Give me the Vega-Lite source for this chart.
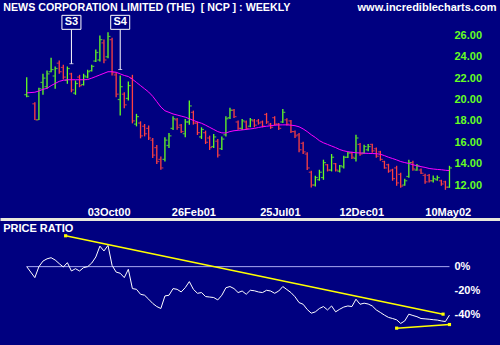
{
  "$schema": "https://vega.github.io/schema/vega-lite/v6.json",
  "background": "#000080",
  "padding": {"left": 0, "right": 0, "top": 1, "bottom": 0},
  "spacing": 2,
  "config": {"view": {"stroke": null}, "font": "Liberation Sans"},
  "datasets": {
    "bars": [
      {"date":"2000-05-15","dir":"up","open":20.45,"high":22.09,"low":20.21,"close":20.3,"ma":20.62,"ratio":0},
      {"date":"2000-05-29","dir":"down","open":19.6,"high":19.74,"low":18.09,"close":18.1,"ma":20.68,"ratio":-9.1},
      {"date":"2000-06-05","dir":"up","open":18.1,"high":21.09,"low":18.09,"close":21.0,"ma":20.8,"ratio":0},
      {"date":"2000-06-12","dir":"up","open":21.6,"high":22.41,"low":20.44,"close":22.0,"ma":20.95,"ratio":4.6},
      {"date":"2000-06-19","dir":"up","open":21.2,"high":22.72,"low":21.0,"close":22.4,"ma":21.05,"ratio":6.5},
      {"date":"2000-06-26","dir":"up","open":22.6,"high":23.91,"low":22.56,"close":22.8,"ma":21.3,"ratio":7.4},
      {"date":"2000-07-03","dir":"up","open":22.2,"high":23.09,"low":21.0,"close":22.9,"ma":21.5,"ratio":5.5},
      {"date":"2000-07-10","dir":"down","open":23.4,"high":23.65,"low":22.41,"close":22.6,"ma":21.7,"ratio":2.5},
      {"date":"2000-07-17","dir":"down","open":23.0,"high":23.25,"low":21.87,"close":22.1,"ma":21.8,"ratio":-0.3},
      {"date":"2000-07-24","dir":"up","open":21.8,"high":23.09,"low":21.47,"close":22.9,"ma":21.85,"ratio":3.3},
      {"date":"2000-07-31","dir":"down","open":22.4,"high":22.5,"low":20.68,"close":20.9,"ma":21.85,"ratio":-3.6},
      {"date":"2000-08-07","dir":"up","open":20.6,"high":21.78,"low":20.44,"close":21.5,"ma":21.85,"ratio":-1.7},
      {"date":"2000-08-14","dir":"down","open":22.1,"high":22.31,"low":21.15,"close":21.3,"ma":21.85,"ratio":-3.6},
      {"date":"2000-08-21","dir":"up","open":21.4,"high":22.41,"low":21.31,"close":22.2,"ma":21.85,"ratio":-0.8},
      {"date":"2000-08-28","dir":"up","open":22.1,"high":22.78,"low":22.0,"close":22.6,"ma":21.87,"ratio":0},
      {"date":"2000-09-04","dir":"up","open":22.7,"high":23.25,"low":22.62,"close":23.1,"ma":22.0,"ratio":3},
      {"date":"2000-09-11","dir":"up","open":23.6,"high":24.69,"low":23.5,"close":24.4,"ma":22.15,"ratio":8},
      {"date":"2000-09-18","dir":"up","open":23.7,"high":26.0,"low":23.56,"close":25.6,"ma":22.3,"ratio":17},
      {"date":"2000-09-25","dir":"down","open":25.3,"high":25.62,"low":23.4,"close":23.7,"ma":22.45,"ratio":13},
      {"date":"2000-10-02","dir":"up","open":24.0,"high":26.3,"low":23.87,"close":25.9,"ma":22.6,"ratio":17.6},
      {"date":"2000-10-09","dir":"down","open":25.6,"high":25.78,"low":22.25,"close":22.5,"ma":22.6,"ratio":1.0},
      {"date":"2000-10-16","dir":"down","open":22.3,"high":22.56,"low":20.21,"close":20.5,"ma":22.55,"ratio":-4.5},
      {"date":"2000-10-23","dir":"up","open":20.0,"high":22.25,"low":18.5,"close":21.2,"ma":22.4,"ratio":-5.5},
      {"date":"2000-10-30","dir":"down","open":20.5,"high":20.68,"low":19.18,"close":19.5,"ma":22.25,"ratio":-9.1},
      {"date":"2000-11-06","dir":"up","open":20.1,"high":21.69,"low":19.9,"close":21.3,"ma":22.15,"ratio":-2.2},
      {"date":"2000-11-13","dir":"down","open":22.0,"high":22.31,"low":17.77,"close":18.0,"ma":21.9,"ratio":-18.2},
      {"date":"2000-11-20","dir":"up","open":17.7,"high":18.66,"low":17.49,"close":18.4,"ma":21.6,"ratio":-18.8},
      {"date":"2000-11-27","dir":"down","open":17.8,"high":17.96,"low":16.37,"close":16.6,"ma":21.3,"ratio":-22.9},
      {"date":"2000-12-04","dir":"down","open":17.5,"high":17.71,"low":16.55,"close":16.8,"ma":21.0,"ratio":-23.7},
      {"date":"2000-12-11","dir":"down","open":17.3,"high":17.56,"low":16.22,"close":16.4,"ma":20.7,"ratio":-27},
      {"date":"2000-12-18","dir":"down","open":16.2,"high":16.4,"low":14.53,"close":14.8,"ma":20.3,"ratio":-30.5},
      {"date":"2000-12-25","dir":"down","open":15.5,"high":15.75,"low":13.96,"close":14.2,"ma":19.8,"ratio":-33.1},
      {"date":"2001-01-01","dir":"down","open":14.4,"high":14.68,"low":13.43,"close":13.6,"ma":19.3,"ratio":-34.7},
      {"date":"2001-01-08","dir":"up","open":14.4,"high":16.46,"low":14.21,"close":16.2,"ma":18.95,"ratio":-24.3},
      {"date":"2001-01-15","dir":"up","open":15.7,"high":16.87,"low":15.46,"close":16.6,"ma":18.8,"ratio":-23.7},
      {"date":"2001-01-22","dir":"up","open":17.3,"high":18.43,"low":17.15,"close":18.2,"ma":18.65,"ratio":-18.2},
      {"date":"2001-01-29","dir":"down","open":18.1,"high":18.28,"low":17.18,"close":17.4,"ma":18.55,"ratio":-18.8},
      {"date":"2001-02-05","dir":"down","open":17.6,"high":17.71,"low":16.87,"close":17.0,"ma":18.45,"ratio":-21.0},
      {"date":"2001-02-12","dir":"up","open":16.8,"high":18.18,"low":16.46,"close":17.9,"ma":18.35,"ratio":-17.4},
      {"date":"2001-02-19","dir":"up","open":17.9,"high":19.9,"low":17.65,"close":19.4,"ma":18.2,"ratio":-12.4},
      {"date":"2001-02-26","dir":"down","open":18.8,"high":18.96,"low":17.65,"close":17.8,"ma":18.05,"ratio":-18.8},
      {"date":"2001-03-05","dir":"down","open":17.8,"high":17.93,"low":16.68,"close":16.9,"ma":17.9,"ratio":-22.1},
      {"date":"2001-03-12","dir":"up","open":16.5,"high":17.4,"low":16.31,"close":17.2,"ma":17.78,"ratio":-21.5},
      {"date":"2001-03-19","dir":"down","open":16.9,"high":17.09,"low":15.84,"close":16.0,"ma":17.6,"ratio":-24.8},
      {"date":"2001-03-26","dir":"down","open":16.4,"high":16.62,"low":15.28,"close":15.5,"ma":17.4,"ratio":-25.2},
      {"date":"2001-04-02","dir":"up","open":15.6,"high":16.78,"low":15.46,"close":16.5,"ma":17.2,"ratio":-25.6},
      {"date":"2001-04-09","dir":"down","open":16.1,"high":16.31,"low":14.58,"close":14.8,"ma":17.0,"ratio":-27.6},
      {"date":"2001-04-16","dir":"up","open":15.4,"high":16.53,"low":15.28,"close":16.3,"ma":16.88,"ratio":-23.7},
      {"date":"2001-04-23","dir":"up","open":16.7,"high":18.43,"low":16.53,"close":18.2,"ma":16.87,"ratio":-17.5},
      {"date":"2001-04-30","dir":"up","open":18.3,"high":19.22,"low":18.18,"close":19.0,"ma":17.0,"ratio":-16.5},
      {"date":"2001-05-07","dir":"down","open":19.0,"high":19.12,"low":18.28,"close":18.4,"ma":17.08,"ratio":-18.2},
      {"date":"2001-05-14","dir":"down","open":17.9,"high":18.03,"low":17.18,"close":17.3,"ma":17.12,"ratio":-21.5},
      {"date":"2001-05-21","dir":"up","open":17.3,"high":18.18,"low":17.15,"close":18.0,"ma":17.16,"ratio":-20.2},
      {"date":"2001-05-28","dir":"down","open":17.9,"high":18.03,"low":17.15,"close":17.3,"ma":17.2,"ratio":-22.9},
      {"date":"2001-06-04","dir":"up","open":17.5,"high":18.28,"low":17.4,"close":18.1,"ma":17.25,"ratio":-19.6},
      {"date":"2001-06-11","dir":"down","open":18.0,"high":18.18,"low":17.4,"close":17.6,"ma":17.3,"ratio":-20.0},
      {"date":"2001-06-18","dir":"down","open":18.0,"high":18.18,"low":17.65,"close":17.8,"ma":17.38,"ratio":-21.0},
      {"date":"2001-06-25","dir":"down","open":17.9,"high":18.03,"low":17.4,"close":17.5,"ma":17.45,"ratio":-21.5},
      {"date":"2001-07-02","dir":"down","open":18.6,"high":18.75,"low":17.72,"close":17.9,"ma":17.5,"ratio":-19.6},
      {"date":"2001-07-09","dir":"down","open":17.7,"high":17.81,"low":17.25,"close":17.4,"ma":17.55,"ratio":-20.2},
      {"date":"2001-07-16","dir":"down","open":18.3,"high":18.43,"low":17.56,"close":17.7,"ma":17.6,"ratio":-22.1},
      {"date":"2001-07-23","dir":"down","open":17.7,"high":17.81,"low":17.15,"close":17.3,"ma":17.62,"ratio":-20.2},
      {"date":"2001-07-30","dir":"up","open":17.9,"high":19.12,"low":17.81,"close":18.8,"ma":17.63,"ratio":-16.5},
      {"date":"2001-08-06","dir":"down","open":18.1,"high":18.25,"low":17.56,"close":17.7,"ma":17.63,"ratio":-19.0},
      {"date":"2001-08-13","dir":"down","open":18.0,"high":18.09,"low":16.87,"close":17.0,"ma":17.6,"ratio":-21.5},
      {"date":"2001-08-20","dir":"down","open":17.0,"high":17.09,"low":16.4,"close":16.6,"ma":17.55,"ratio":-25.0},
      {"date":"2001-08-27","dir":"down","open":16.7,"high":16.87,"low":15.06,"close":15.3,"ma":17.45,"ratio":-29.8},
      {"date":"2001-09-03","dir":"down","open":15.9,"high":16.06,"low":14.9,"close":15.1,"ma":17.25,"ratio":-31.2},
      {"date":"2001-09-10","dir":"down","open":14.9,"high":15.06,"low":13.4,"close":13.6,"ma":17.0,"ratio":-35.5},
      {"date":"2001-09-17","dir":"down","open":13.2,"high":13.33,"low":11.77,"close":12.0,"ma":16.7,"ratio":-38.6},
      {"date":"2001-09-24","dir":"up","open":12.0,"high":12.87,"low":11.87,"close":12.7,"ma":16.45,"ratio":-37.5},
      {"date":"2001-10-01","dir":"up","open":12.5,"high":13.43,"low":12.4,"close":13.2,"ma":16.15,"ratio":-34.7},
      {"date":"2001-10-08","dir":"up","open":12.7,"high":14.37,"low":12.49,"close":14.1,"ma":15.95,"ratio":-33.1},
      {"date":"2001-10-15","dir":"down","open":13.9,"high":13.96,"low":13.27,"close":13.4,"ma":15.8,"ratio":-35.9},
      {"date":"2001-10-22","dir":"up","open":13.4,"high":14.9,"low":13.27,"close":14.6,"ma":15.65,"ratio":-32.6},
      {"date":"2001-10-29","dir":"down","open":14.0,"high":14.06,"low":13.27,"close":13.4,"ma":15.5,"ratio":-37.5},
      {"date":"2001-11-05","dir":"up","open":13.3,"high":13.87,"low":13.18,"close":13.8,"ma":15.32,"ratio":-35.3},
      {"date":"2001-11-12","dir":"up","open":13.7,"high":14.74,"low":13.55,"close":14.6,"ma":15.2,"ratio":-33.5},
      {"date":"2001-11-19","dir":"up","open":14.6,"high":15.12,"low":14.53,"close":15.0,"ma":15.12,"ratio":-32.6},
      {"date":"2001-11-26","dir":"down","open":15.0,"high":15.12,"low":14.43,"close":14.6,"ma":15.06,"ratio":-33.1},
      {"date":"2001-12-03","dir":"up","open":14.5,"high":16.71,"low":14.21,"close":16.4,"ma":15.02,"ratio":-27.0},
      {"date":"2001-12-10","dir":"down","open":15.8,"high":15.93,"low":14.74,"close":14.9,"ma":15.0,"ratio":-31.2},
      {"date":"2001-12-17","dir":"up","open":15.0,"high":15.78,"low":14.93,"close":15.6,"ma":14.98,"ratio":-30.3},
      {"date":"2001-12-24","dir":"up","open":15.3,"high":15.84,"low":15.15,"close":15.6,"ma":14.96,"ratio":-31.0},
      {"date":"2001-12-31","dir":"down","open":15.8,"high":15.87,"low":15.03,"close":15.2,"ma":14.95,"ratio":-32.6},
      {"date":"2002-01-07","dir":"down","open":15.4,"high":15.5,"low":14.56,"close":14.7,"ma":14.93,"ratio":-35.9},
      {"date":"2002-01-14","dir":"down","open":15.1,"high":15.2,"low":14.27,"close":14.4,"ma":14.88,"ratio":-38.0},
      {"date":"2002-01-21","dir":"down","open":14.2,"high":14.27,"low":13.52,"close":13.6,"ma":14.75,"ratio":-40.2},
      {"date":"2002-01-28","dir":"down","open":13.9,"high":13.99,"low":13.15,"close":13.3,"ma":14.6,"ratio":-42.1},
      {"date":"2002-02-04","dir":"down","open":13.4,"high":13.52,"low":12.4,"close":12.6,"ma":14.48,"ratio":-43.0},
      {"date":"2002-02-11","dir":"down","open":13.6,"high":13.8,"low":11.93,"close":12.2,"ma":14.35,"ratio":-44.1},
      {"date":"2002-02-18","dir":"down","open":13.0,"high":13.15,"low":11.74,"close":11.9,"ma":14.2,"ratio":-47.1},
      {"date":"2002-02-25","dir":"up","open":12.0,"high":12.59,"low":11.93,"close":12.4,"ma":14.1,"ratio":-45.0},
      {"date":"2002-03-04","dir":"up","open":12.8,"high":14.37,"low":12.68,"close":14.1,"ma":14.02,"ratio":-39.4},
      {"date":"2002-03-11","dir":"down","open":14.1,"high":14.27,"low":13.33,"close":13.5,"ma":13.9,"ratio":-40.5},
      {"date":"2002-03-18","dir":"up","open":13.4,"high":13.97,"low":13.34,"close":13.8,"ma":13.8,"ratio":-41.5},
      {"date":"2002-03-25","dir":"down","open":13.4,"high":13.55,"low":13.03,"close":13.1,"ma":13.72,"ratio":-43.0},
      {"date":"2002-04-01","dir":"down","open":12.9,"high":13.05,"low":12.12,"close":12.3,"ma":13.65,"ratio":-43.3},
      {"date":"2002-04-08","dir":"down","open":12.9,"high":13.03,"low":12.24,"close":12.4,"ma":13.55,"ratio":-43.6},
      {"date":"2002-04-15","dir":"up","open":12.4,"high":12.9,"low":12.24,"close":12.6,"ma":13.5,"ratio":-44.0},
      {"date":"2002-04-22","dir":"up","open":12.5,"high":12.9,"low":12.4,"close":12.7,"ma":13.46,"ratio":-44.3},
      {"date":"2002-04-29","dir":"down","open":12.4,"high":12.49,"low":11.93,"close":12.1,"ma":13.43,"ratio":-45.0},
      {"date":"2002-05-06","dir":"down","open":12.3,"high":12.4,"low":11.55,"close":11.8,"ma":13.38,"ratio":-45.5},
      {"date":"2002-05-13","dir":"up","open":11.8,"high":13.8,"low":11.74,"close":13.6,"ma":13.35,"ratio":-40.2}
    ],
    "notes": [
      {"label":"S3","date":"2000-07-31","top":26.56,"end":23.35,"box":27.22},
      {"label":"S4","date":"2000-10-23","top":26.56,"end":22.81,"box":27.22}
    ],
    "zero": [{"from":"2000-05-15","to":"2002-05-13","pct":0}],
    "trend": [
      {"line":"upper","date":"2000-07-21","pct":25.6},
      {"line":"upper","date":"2002-05-02","pct":-39.4},
      {"line":"lower","date":"2002-02-11","pct":-51.0},
      {"line":"lower","date":"2002-05-13","pct":-48.0}
    ]
  },
  "vconcat": [
    {
      "width": 500,
      "height": 186,
      "resolve": {"axis": {"x": "independent", "y": "independent"}},
      "layer": [
        {
          "data": {"name": "bars"},
          "mark": {"type": "rule", "strokeWidth": 1.3},
          "encoding": {
            "x": {"field": "date", "type": "temporal",
              "scale": {"type": "utc", "domain": [{"year": 2000, "month": 3, "date": 30, "utc": true}, {"year": 2002, "month": 8, "date": 8, "utc": true}]},
              "axis": {"orient": "bottom", "values": [
                  {"year": 2000, "month": 10, "date": 3, "utc": true},
                  {"year": 2001, "month": 2, "date": 26, "utc": true},
                  {"year": 2001, "month": 7, "date": 25, "utc": true},
                  {"year": 2001, "month": 12, "date": 12, "utc": true},
                  {"year": 2002, "month": 5, "date": 10, "utc": true}],
                "format": "%d%b%y", "labelColor": "white", "labelFontSize": 11, "labelFontWeight": "bold",
                "ticks": false, "domain": false, "grid": false, "labelPadding": 6, "labelFlush": false, "labelOverlap": false, "title": null}},
            "y": {"field": "high", "type": "quantitative",
              "scale": {"domain": [10.6, 28], "nice": false, "zero": false},
              "axis": {"orient": "right", "offset": -46, "values": [12, 14, 16, 18, 20, 22, 24, 26], "format": ".2f",
                "labelColor": "#66ff22", "labelFontSize": 11, "labelFontWeight": "bold", "labelPadding": 0,
                "labelAlign": "left", "labelBaseline": "middle", "labelFlush": false, "ticks": false, "domain": false, "grid": false,
                "title": "www.incrediblecharts.com", "titleColor": "white", "titleFontSize": 11, "titleFontWeight": "bold",
                "titleAngle": 0, "titleAlign": "right", "titleBaseline": "middle", "titleX": 42, "titleY": -7}},
            "y2": {"field": "low"},
            "color": {"field": "dir", "type": "nominal", "scale": {"domain": ["up", "down"], "range": ["#66ff22", "#ff4040"]}, "legend": null}
          }
        },
        {
          "data": {"name": "bars"},
          "mark": {"type": "tick", "orient": "horizontal", "size": 2, "thickness": 1.2, "xOffset": -1.5},
          "encoding": {
            "x": {"field": "date", "type": "temporal", "axis": null},
            "y": {"field": "open", "type": "quantitative", "axis": null},
            "color": {"field": "dir", "type": "nominal", "scale": {"domain": ["up", "down"], "range": ["#66ff22", "#ff4040"]}, "legend": null}
          }
        },
        {
          "data": {"name": "bars"},
          "mark": {"type": "tick", "orient": "horizontal", "size": 2, "thickness": 1.2, "xOffset": 1.5},
          "encoding": {
            "x": {"field": "date", "type": "temporal", "axis": null},
            "y": {"field": "close", "type": "quantitative", "axis": null},
            "color": {"field": "dir", "type": "nominal", "scale": {"domain": ["up", "down"], "range": ["#66ff22", "#ff4040"]}, "legend": null}
          }
        },
        {
          "data": {"name": "bars"},
          "mark": {"type": "line", "color": "#ff00ff", "strokeWidth": 1},
          "encoding": {
            "x": {"field": "date", "type": "temporal", "axis": null},
            "y": {"field": "ma", "type": "quantitative", "axis": null}
          }
        },
        {
          "data": {"name": "notes"},
          "mark": {"type": "rule", "color": "white", "strokeWidth": 1},
          "encoding": {
            "x": {"field": "date", "type": "temporal",
              "axis": {"orient": "top", "labels": false, "ticks": false, "domain": false, "grid": false,
                "title": "NEWS CORPORATION LIMITED (THE) \u00a0[ NCP ] : WEEKLY", "titleColor": "white", "titleFontSize": 10.7, "titleFontWeight": "bold",
                "titleAnchor": "start", "titleAlign": "left", "titleBaseline": "middle", "titleX": 2.7, "titleY": -7}},
            "y": {"field": "top", "type": "quantitative", "axis": null},
            "y2": {"field": "end"}
          }
        },
        {
          "data": {"name": "notes"},
          "mark": {"type": "tick", "orient": "horizontal", "size": 4, "thickness": 1, "color": "white"},
          "encoding": {
            "x": {"field": "date", "type": "temporal", "axis": null},
            "y": {"field": "end", "type": "quantitative", "axis": null}
          }
        },
        {
          "data": {"name": "notes"},
          "mark": {"type": "point", "shape": "M-1,-0.737L1,-0.737L1,0.737L-1,0.737Z", "size": 361, "filled": true, "fill": "#000080", "stroke": "white", "strokeWidth": 1, "opacity": 1},
          "encoding": {
            "x": {"field": "date", "type": "temporal", "axis": null},
            "y": {"field": "box", "type": "quantitative", "axis": null}
          }
        },
        {
          "data": {"name": "notes"},
          "mark": {"type": "text", "color": "white", "fontSize": 11, "fontWeight": "bold", "align": "center", "baseline": "middle"},
          "encoding": {
            "x": {"field": "date", "type": "temporal", "axis": null},
            "y": {"field": "box", "type": "quantitative", "axis": null},
            "text": {"field": "label"}
          }
        }
      ]
    },
    {
      "width": 500,
      "height": 127,
      "resolve": {"axis": {"x": "independent", "y": "independent"}},
      "layer": [
        {
          "data": {"name": "zero"},
          "mark": {"type": "rule", "color": "#a8a8f0", "strokeWidth": 1},
          "encoding": {
            "x": {"field": "from", "type": "temporal",
              "scale": {"type": "utc", "domain": [{"year": 2000, "month": 3, "date": 30, "utc": true}, {"year": 2002, "month": 8, "date": 8, "utc": true}]},
              "axis": {"orient": "top", "labels": false, "ticks": false, "grid": false, "domain": true, "domainColor": "#e8e8dc", "domainWidth": 3,
                "title": "PRICE RATIO", "titleColor": "white", "titleFontSize": 11, "titleFontWeight": "bold",
                "titleAnchor": "start", "titleAlign": "left", "titleBaseline": "middle", "titleX": 2.7, "titleY": 9}},
            "x2": {"field": "to"},
            "y": {"field": "pct", "type": "quantitative",
              "scale": {"domain": [-65.8, 39.5], "nice": false, "zero": false},
              "axis": {"orient": "right", "offset": -46, "values": [0, -20, -40], "labelExpr": "datum.value + '%'",
                "labelColor": "white", "labelFontSize": 11, "labelFontWeight": "bold", "labelPadding": 0,
                "labelAlign": "left", "labelBaseline": "middle", "labelFlush": false, "ticks": false, "domain": false, "grid": false, "title": null}}
          }
        },
        {
          "data": {"name": "bars"},
          "mark": {"type": "line", "color": "white", "strokeWidth": 1},
          "encoding": {
            "x": {"field": "date", "type": "temporal", "axis": null},
            "y": {"field": "ratio", "type": "quantitative", "axis": null}
          }
        },
        {
          "data": {"name": "trend"},
          "mark": {"type": "line", "color": "#ffff00", "strokeWidth": 1.5, "point": {"shape": "square", "size": 10, "color": "#ffff00", "filled": true}},
          "encoding": {
            "x": {"field": "date", "type": "temporal", "axis": null},
            "y": {"field": "pct", "type": "quantitative", "axis": null},
            "detail": {"field": "line", "type": "nominal"}
          }
        }
      ]
    }
  ]
}
